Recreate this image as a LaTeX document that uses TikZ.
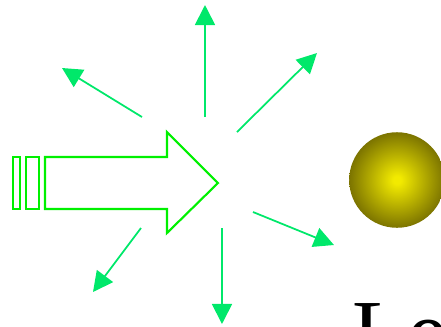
\documentclass[tikz,border=0pt]{standalone}
\usepackage{fontspec}
\setmainfont{Liberation Serif}
\usetikzlibrary{arrows.meta,positioning}
\definecolor{Lime}{HTML}{00F000}
\definecolor{Spring}{HTML}{00E86A}
\definecolor{Lemon}{HTML}{F2EA00}
\definecolor{Olive}{HTML}{7C7400}
\pgfdeclareradialshading{ballglow}{\pgfpoint{0bp}{0bp}}{color(0bp)=(Lemon); color(2bp)=(Lemon); color(25bp)=(Olive); color(50bp)=(Olive)}

\tikzset{
  ray/.style={Spring,line width=0.5pt,-{Triangle[length=0.2cm,width=0.2cm]}},
  outline/.style={Lime,line width=0.6pt}
}

\begin{document}
\begin{tikzpicture}[x=0.01cm,y=-0.01cm]
  \useasboundingbox (0,0) rectangle (441,326);
  % light beam: two bars and a block arrow
  \draw[outline] (13,157) rectangle (20,209);
  \draw[outline] (26,157) rectangle (39,209);
  \draw[outline] (45,157) -- (167,157) -- (167,132) -- (218,183) -- (167,233)
    -- (167,209) -- (45,209) -- cycle;
  % scattered rays
  \foreach \name/\sx/\sy/\ex/\ey in {up/205/117/205/5,ul/142/117/62/68,ur/237/132/317/53,
      dl/141/228/93/292,dn/222/228/222/324,dr/253/212/334/245}{
    \coordinate (\name s) at (\sx,\sy);
    \coordinate (\name e) at (\ex,\ey);
    \draw[ray] (\name s) -- (\name e);
  }
  % target ball
  \node[circle,minimum size=0.955cm,inner sep=0pt,shading=ballglow] (ball) at (397,180) {};
  \node[anchor=base west,inner sep=0pt,font=\fontsize{25.6}{28}\selectfont] (label) at (352,362) {Le};
\end{tikzpicture}
\end{document}
